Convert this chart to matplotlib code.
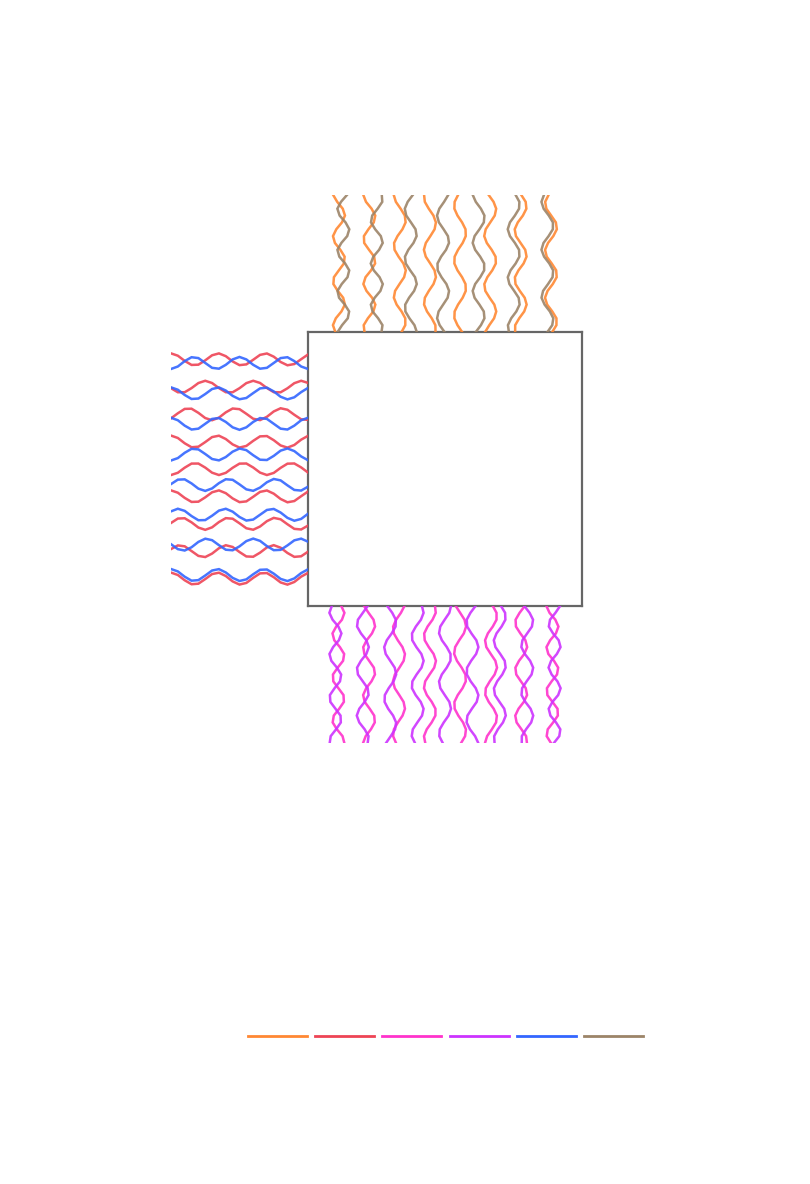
import numpy as np
import matplotlib
matplotlib.use("Agg")
import matplotlib.pyplot as plt
from matplotlib.lines import Line2D

# ---- data (positions in main-axes units 0..10, waves) ----
n_samples = 21
amp = 0.22

# top margin (vertical waves)
orange_pos = [1.13, 2.24, 3.35, 4.45, 5.55, 6.65, 7.76, 8.87]
orange_freq = [3.1, 3.1, 2.7, 2.6, 2.5, 2.7, 2.8, 2.9]
orange_phase = [-2.5, -2.2, 0.3, 1.2, 2.8, -1.0, -2.0, 0.2]
brown_pos = [1.29, 2.51, 3.75, 4.93, 6.23, 7.51, 8.74]
brown_freq = [3.3, 3.2, 2.8, 2.7, 2.8, 2.8, 2.9]
brown_phase = [-1.25, 0.9, 1.6, 2.9, -0.5, -2.2, 0.0]

# left margin (horizontal waves)
red_pos = [9, 8, 7, 6, 5, 4, 3, 2, 1]
red_freq = [2.9, 2.85, 2.93, 2.95, 2.85, 2.9, 2.93, 2.93, 2.95]
red_phase = [1.571, -2.906, -0.767, 1.571, -1.571, 1.571, 0.135, 0.356, 1.571]
blue_pos = [8.87, 7.76, 6.65, 5.53, 4.42, 3.33, 2.24, 1.13]
blue_freq = [3.0, 2.93, 3.0, 2.95, 2.93, 2.93, 2.93, 2.95]
blue_phase = [-1.571, 1.571, 1.571, -1.571, 0.135, 0.6, 3.07, 1.571]

# bottom margin (vertical waves)
magenta_pos = [1.11, 2.23, 3.32, 4.45, 5.55, 6.68, 7.78, 8.92]
magenta_freq = [3.2, 2.9, 2.6, 2.7, 2.6, 2.7, 2.9, 3.2]
magenta_phase = [0.5, -1.0, 2.0, 1.0, -0.8, 0.3, 2.5, -1.5]
purple_pos = [1, 2, 3, 4, 5, 6, 7, 8, 9]
purple_freq = [3.2, 3.0, 2.7, 2.8, 2.7, 2.8, 2.8, 2.9, 3.2]
purple_phase = [-2.5, 2.2, -0.5, 0.8, 1.5, 2.6, 0.2, -0.5, 2.0]

colors = {
    "orange": "#ff8833",
    "red": "#ee4455",
    "magenta": "#ff33cc",
    "purple": "#cc33ff",
    "blue": "#3366ff",
    "brown": "#9c8468",
}

W, H = 810, 1184
fig = plt.figure(figsize=(W / 100, H / 100), dpi=100)

def fr(x0, y0, x1, y1):
    return [x0 / W, 1 - y1 / H, (x1 - x0) / W, (y1 - y0) / H]

ax = fig.add_axes(fr(308, 332, 582, 606))
ax.set_xlim(0, 10)
ax.set_ylim(0, 10)
ax.set_xticks([])
ax.set_yticks([])
for sp in ax.spines.values():
    sp.set_color("#666666")
    sp.set_linewidth(1.6)

ax_top = fig.add_axes(fr(308, 195, 582, 332), sharex=ax)
ax_left = fig.add_axes(fr(171, 332, 308, 606), sharey=ax)
ax_bot = fig.add_axes(fr(308, 606, 582, 743), sharex=ax)
ax_top.set_ylim(0, 1)
ax_bot.set_ylim(1, 0)
ax_left.set_xlim(0, 1)
for a in (ax_top, ax_left, ax_bot):
    a.axis("off")

s = np.linspace(0, 1, n_samples)
lw = 1.8
alpha = 0.9

def vwaves(axx, pos, freq, phase, color):
    for p, f, ph in zip(pos, freq, phase):
        axx.plot(p + amp * np.sin(2 * np.pi * f * s + ph), s, color=color,
                 lw=lw, alpha=alpha, solid_joinstyle="miter")

def hwaves(axx, pos, freq, phase, color):
    for p, f, ph in zip(pos, freq, phase):
        axx.plot(s, p + amp * np.sin(2 * np.pi * f * s + ph), color=color,
                 lw=lw, alpha=alpha, solid_joinstyle="miter")

vwaves(ax_top, orange_pos, orange_freq, orange_phase, colors["orange"])
vwaves(ax_top, brown_pos, brown_freq, brown_phase, colors["brown"])
hwaves(ax_left, red_pos, red_freq, red_phase, colors["red"])
hwaves(ax_left, blue_pos, blue_freq, blue_phase, colors["blue"])
vwaves(ax_bot, magenta_pos, magenta_freq, magenta_phase, colors["magenta"])
vwaves(ax_bot, purple_pos, purple_freq, purple_phase, colors["purple"])
ax.set_xlim(0, 10)
ax.set_ylim(0, 10)

handles = [Line2D([], [], color=colors[k], lw=2) for k in
           ["orange", "red", "magenta", "purple", "blue", "brown"]]
fig.legend(handles, [""] * 6, loc="center", bbox_to_anchor=(445.5 / W, 1 - 1036.5 / H),
           ncol=6, frameon=False, handlelength=4.25, handletextpad=0.0,
           columnspacing=0.6, borderpad=0)

fig.savefig("out.png", dpi=100)
